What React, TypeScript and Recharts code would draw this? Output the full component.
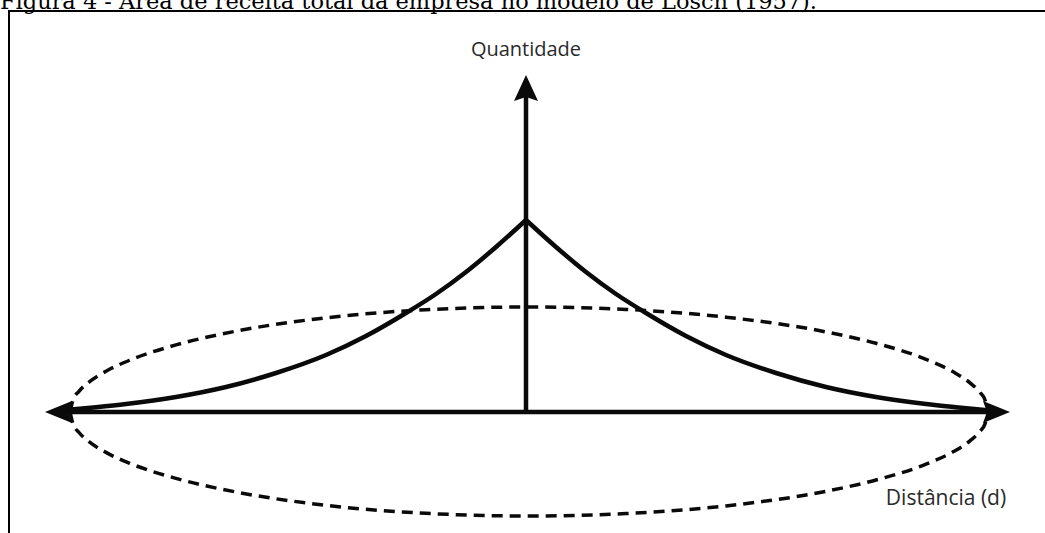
import React from 'react';
import { ComposedChart, Line, Scatter, XAxis, YAxis, ReferenceLine, ReferenceDot } from 'recharts';

const TITLE = 'Figura 4 - Área de receita total da empresa no modelo de Losch (1957).';
const Y_LABEL = 'Quantidade';
const X_LABEL = 'Distância (d)';

// demand curve (distance d from the firm, quantity q)
const curveLeftD = [-466, -430, -400, -350, -300, -250, -200, -160, -120, -90, -60, -30, 0];
const curveLeftQ = [1.5, 4.8, 8, 15, 25, 39, 57, 76, 99, 118, 140, 165, 192];
const curveRightD = [0, 30, 60, 90, 120, 160, 200, 250, 300, 350, 400, 430, 464];
const curveRightQ = [192, 165, 140, 118, 99, 76, 57, 39, 25, 15, 8, 4.8, 1.5];

// dashed market-area ellipse
const ellipseD = [-456, -453, -447, -437, -420, -395, -350, -290, -200, -100, 3, 100, 200, 300, 350, 400, 428, 444, 454, 459, 462];
const ellipseUpperQ = [0, 12, 20.7, 29.9, 40.8, 52.3, 67.1, 80.8, 94.2, 102.3, 105, 102.6, 94.8, 80.1, 68.7, 52.7, 39.7, 29.1, 19.5, 12, 0];
const ellipseLowerQ = [0, -11.9, -20.5, -29.6, -40.4, -51.8, -66.4, -80, -93.3, -101.3, -104, -101.6, -93.9, -79.3, -68, -52.2, -39.3, -28.8, -19.3, -11.9, 0];

// axes (tips of arrows)
const xAxisLeftTip = -481;
const xAxisRightTip = 484;
const yAxisTopTip = 337;

const toPts = (ds: number[], qs: number[]) => ds.map((d, i) => ({ d, q: qs[i] }));
const curveLeft = toPts(curveLeftD, curveLeftQ);
const curveRight = toPts(curveRightD, curveRightQ);
const ellipseUpper = toPts(ellipseD, ellipseUpperQ);
const ellipseLower = toPts(ellipseD, ellipseLowerQ);

const INK = '#0a0a0a';

const ArrowLeft = (p: any) => {
  const { cx, cy } = p;
  return <polygon points={`${cx},${cy} ${cx + 27},${cy - 11} ${cx + 23},${cy} ${cx + 27},${cy + 11}`} fill={INK} />;
};
const ArrowRight = (p: any) => {
  const { cx, cy } = p;
  return <polygon points={`${cx},${cy} ${cx - 27},${cy - 11} ${cx - 23},${cy} ${cx - 27},${cy + 11}`} fill={INK} />;
};
const ArrowUp = (p: any) => {
  const { cx, cy } = p;
  return <polygon points={`${cx},${cy} ${cx - 12},${cy + 26} ${cx},${cy + 22} ${cx + 12},${cy + 26}`} fill={INK} />;
};

export default function App() {
  return (
    <div style={{ position: 'absolute', left: 0, top: 0, width: 1045, height: 533, overflow: 'hidden', background: '#fff' }}>
      <svg width={1045} height={20} style={{ position: 'absolute', left: 0, top: 0 }}>
        <text x={0} y={9} fontFamily="'DejaVu Serif', serif" fontSize={22} fill="#000" textLength={817} lengthAdjust="spacingAndGlyphs">
          {TITLE}
        </text>
      </svg>
      <div
        style={{
          position: 'absolute', left: 8, top: 10, width: 1100, height: 600,
          borderLeft: '2.5px solid #000', borderTop: '2.5px solid #000', boxSizing: 'border-box',
        }}
      />
      <div style={{ position: 'absolute', left: 0, top: 0 }}>
        <ComposedChart width={1045} height={533} margin={{ top: 0, right: 0, bottom: 0, left: 0 }}>
          <XAxis type="number" dataKey="d" domain={[-526, 519]} hide allowDataOverflow />
          <YAxis type="number" dataKey="q" domain={[-121, 412]} hide width={0} allowDataOverflow />
          <ReferenceLine segment={[{ x: xAxisLeftTip + 12, y: 0 }, { x: xAxisRightTip - 12, y: 0 }]} stroke={INK} strokeWidth={4.5} />
          <ReferenceLine segment={[{ x: 0, y: 0 }, { x: 0, y: yAxisTopTip - 14 }]} stroke={INK} strokeWidth={4.5} />
          <Line data={ellipseUpper} dataKey="q" type="monotone" stroke={INK} strokeWidth={3.5} strokeDasharray="11 7" dot={false} activeDot={false} isAnimationActive={false} />
          <Line data={ellipseLower} dataKey="q" type="monotone" stroke={INK} strokeWidth={3.5} strokeDasharray="11 7" dot={false} activeDot={false} isAnimationActive={false} />
          <Line data={curveLeft} dataKey="q" type="monotone" stroke={INK} strokeWidth={4.5} dot={false} activeDot={false} isAnimationActive={false} />
          <Line data={curveRight} dataKey="q" type="monotone" stroke={INK} strokeWidth={4.5} dot={false} activeDot={false} isAnimationActive={false} />
          <Scatter data={[{ d: xAxisLeftTip, q: 0 }]} shape={ArrowLeft} isAnimationActive={false} />
          <Scatter data={[{ d: xAxisRightTip, q: 0 }]} shape={ArrowRight} isAnimationActive={false} />
          <Scatter data={[{ d: 0, q: yAxisTopTip }]} shape={ArrowUp} isAnimationActive={false} />
          <ReferenceDot x={0} y={363} r={0} stroke="none" fill="none"
            label={{ value: Y_LABEL, position: 'center', fill: '#2a2a2a', fontSize: 20, fontFamily: "'Open Sans', sans-serif" }} />
          <ReferenceDot x={420} y={-86} r={0} stroke="none" fill="none"
            label={{ value: X_LABEL, position: 'center', fill: '#2a2a2a', fontSize: 21, fontFamily: "'Open Sans', sans-serif" }} />
        </ComposedChart>
      </div>
    </div>
  );
}
